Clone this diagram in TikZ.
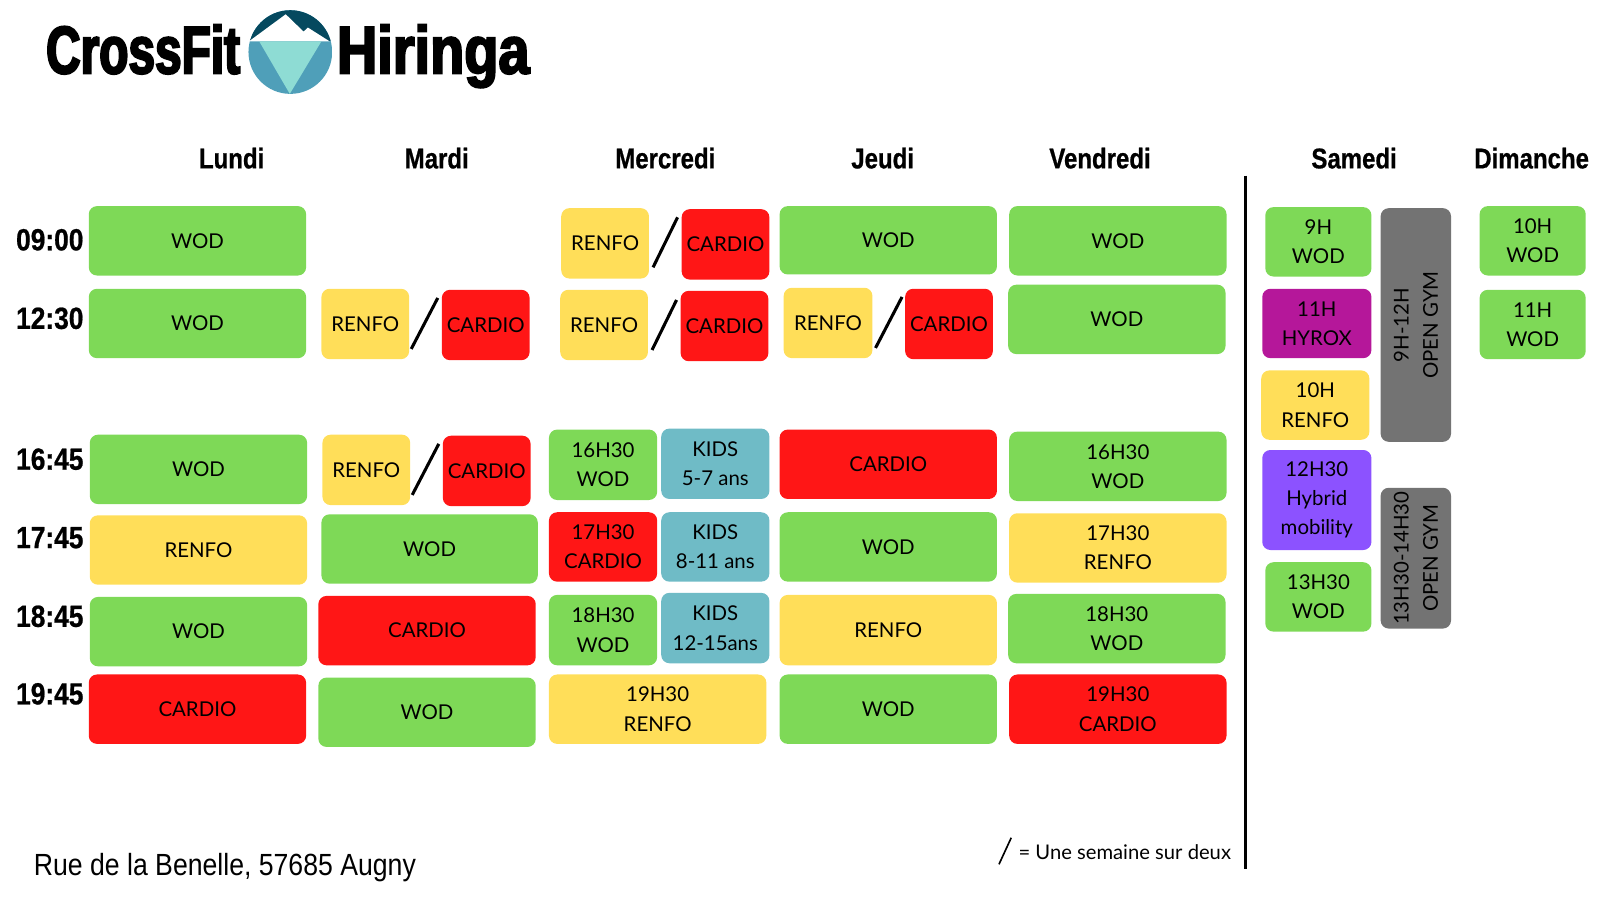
\documentclass[tikz,border=0pt]{standalone}
\usepackage{fontspec}
\setmainfont{Lato}
\newfontfamily\headfont[FakeStretch=0.84,FakeBold=0.7]{Liberation Sans Bold}
\newfontfamily\hourfont[FakeStretch=0.86,FakeBold=0.7]{Liberation Sans Bold}
\newfontfamily\logofonta[FakeStretch=0.71,FakeBold=3]{Liberation Sans Bold}
\newfontfamily\logofontb[FakeStretch=0.83,FakeBold=3]{Liberation Sans Bold}
\newfontfamily\addrfont[FakeStretch=0.87]{Liberation Sans}
\definecolor{cgreen}{HTML}{7ED957}
\definecolor{cyellow}{HTML}{FFDE59}
\definecolor{cred}{HTML}{FF1616}
\definecolor{ckids}{HTML}{6FBBC6}
\definecolor{chyrox}{HTML}{B5179A}
\definecolor{cviolet}{HTML}{8C52FF}
\definecolor{cgrey}{HTML}{737373}
\definecolor{ldark}{HTML}{05495F}
\definecolor{lblue}{HTML}{4F9FB9}
\definecolor{lteal}{HTML}{8EDCD4}
\tikzset{
  cellbox/.style={rounded corners=8pt,inner sep=0pt,align=center,font=\fontsize{20}{28.7}\selectfont,text=black},
  dayhead/.style={font=\headfont\fontsize{28}{30}\selectfont,inner sep=0pt},
  hourlab/.style={font=\hourfont\fontsize{30}{32}\selectfont,anchor=east,inner sep=0pt},
  slashline/.style={line width=3pt,black},
}
% name x0 y0 x1 y1 colour text
\newcommand{\cell}[7]{%
  \node[cellbox,fill=#6,minimum width={(#4)-(#2)},minimum height={(#5)-(#3)}] (#1) at ({((#2)+(#4))/2},{((#3)+(#5))/2}) {#7};}
\newcommand{\vcell}[7]{%
  \node[cellbox,fill=#6,minimum width={(#5)-(#3)},minimum height={(#4)-(#2)},rotate=90] (#1) at ({((#2)+(#4))/2},{((#3)+(#5))/2}) {#7};}
\newcommand{\slashbar}[5]{%
  \coordinate (#1a) at (#2,#3); \coordinate (#1b) at (#4,#5);
  \draw[slashline] (#1a) -- (#1b);}
\begin{document}
\begin{tikzpicture}[x=1pt,y=-1pt]
\useasboundingbox (0,0) rectangle (1568,882);
% logo
\begin{scope}
\clip (284.5,51) circle (41);
\fill[lblue] (243,10) rectangle (326,92);
\fill[ldark] (243,10) rectangle (326,40);
\fill[white] (244,40.5) -- (280,14) -- (297.5,31) -- (301.7,27) -- (323,40.5) -- cycle;
\fill[lteal] (254,40.5) -- (315,40.5) -- (284,92) -- cycle;
\end{scope}
\node[font=\logofonta\fontsize{66}{68}\selectfont,inner sep=0pt,anchor=base west] (logoa) at (45,72) {CrossFit};
\node[font=\logofontb\fontsize{66}{68}\selectfont,inner sep=0pt,anchor=base west] (logob) at (330,72) {Hiringa};
% days
\node[dayhead] (dlun) at (227,155) {Lundi};
\node[dayhead] (dmar) at (428,155) {Mardi};
\node[dayhead] (dmer) at (652,155) {Mercredi};
\node[dayhead] (djeu) at (865,155) {Jeudi};
\node[dayhead] (dven) at (1078,155) {Vendredi};
\node[dayhead] (dsam) at (1327,155) {Samedi};
\node[dayhead] (ddim) at (1501,155) {Dimanche};
% hours
\node[hourlab] (h1) at (82,235) {09:00};
\node[hourlab] (h2) at (82,312) {12:30};
\node[hourlab] (h3) at (82,450) {16:45};
\node[hourlab] (h4) at (82,527) {17:45};
\node[hourlab] (h5) at (82,604) {18:45};
\node[hourlab] (h6) at (82,680) {19:45};
% Lundi
\cell{l1}{87}{202}{300}{270}{cgreen}{WOD}
\cell{l2}{87}{283}{300}{351}{cgreen}{WOD}
\cell{l3}{88}{426}{301}{494}{cgreen}{WOD}
\cell{l4}{88}{505}{301}{573}{cyellow}{RENFO}
\cell{l5}{88}{585}{301}{653}{cgreen}{WOD}
\cell{l6}{87}{661}{300}{729}{cred}{CARDIO}
% Mardi
\cell{ma}{315}{283}{401}{352}{cyellow}{RENFO}
\cell{mb}{433}{284}{519}{353}{cred}{CARDIO}
\slashbar{sa}{403}{342}{429}{292}
\cell{mc}{316}{426}{402}{495}{cyellow}{RENFO}
\cell{md}{434}{427}{520}{496}{cred}{CARDIO}
\slashbar{sb}{404}{485}{430}{435}
\cell{me}{315}{504}{527}{572}{cgreen}{WOD}
\cell{mf}{312}{584}{525}{652}{cred}{CARDIO}
\cell{mg}{312}{664}{525}{732}{cgreen}{WOD}
% Mercredi
\cell{wa}{550}{204}{636}{273}{cyellow}{RENFO}
\cell{wb}{668}{205}{754}{274}{cred}{CARDIO}
\slashbar{sc}{640}{262}{664}{213}
\cell{wc}{549}{284}{635}{353}{cyellow}{RENFO}
\cell{wd}{667}{285}{753}{354}{cred}{CARDIO}
\slashbar{sd}{639}{343}{663}{294}
\cell{we}{538}{421}{644}{490}{cgreen}{16H30\\WOD}
\cell{wf}{648}{420}{754}{489}{ckids}{KIDS\\5-7 ans}
\cell{wg}{538}{502}{644}{570}{cred}{17H30\\CARDIO}
\cell{wh}{648}{502}{754}{570}{ckids}{KIDS\\8-11 ans}
\cell{wi}{538}{583}{644}{652}{cgreen}{18H30\\WOD}
\cell{wj}{648}{581}{754}{650}{ckids}{KIDS\\12-15ans}
\cell{wk}{538}{661}{751}{729}{cyellow}{19H30\\RENFO}
% Jeudi
\cell{ja}{764}{202}{977}{269}{cgreen}{WOD}
\cell{jb}{768}{282}{855}{351}{cyellow}{RENFO}
\cell{jc}{887}{283}{973}{352}{cred}{CARDIO}
\slashbar{se}{858}{341}{884}{291}
\cell{jd}{764}{421}{977}{489}{cred}{CARDIO}
\cell{je}{764}{502}{977}{570}{cgreen}{WOD}
\cell{jf}{764}{583}{977}{652}{cyellow}{RENFO}
\cell{jg}{764}{661}{977}{729}{cgreen}{WOD}
% Vendredi
\cell{va}{989}{202}{1202}{270}{cgreen}{WOD}
\cell{vb}{988}{279}{1201}{347}{cgreen}{WOD}
\cell{vc}{989}{423}{1202}{491}{cgreen}{16H30\\WOD}
\cell{vd}{989}{503}{1202}{571}{cyellow}{17H30\\RENFO}
\cell{ve}{988}{582}{1201}{650}{cgreen}{18H30\\WOD}
\cell{vf}{989}{661}{1202}{729}{cred}{19H30\\CARDIO}
% separator
\coordinate (septop) at (1221,172);
\coordinate (sepbot) at (1221,852);
\draw[line width=3pt,black] (septop) -- (sepbot);
% Samedi
\cell{sa1}{1240}{203}{1344}{271}{cgreen}{9H\\WOD}
\cell{sa2}{1237}{283}{1344}{351}{chyrox}{11H\\HYROX}
\cell{sa3}{1236}{363}{1342}{431}{cyellow}{10H\\RENFO}
\cell{sa4}{1237}{441}{1344}{539}{cviolet}{12H30\\Hybrid\\mobility}
\cell{sa5}{1240}{551}{1344}{619}{cgreen}{13H30\\WOD}
\vcell{og1}{1353}{204}{1422}{433}{cgrey}{9H-12H\\OPEN GYM}
\vcell{og2}{1353}{478}{1422}{616}{cgrey}{13H30-14H30\\OPEN GYM}
% Dimanche
\cell{di1}{1450}{202}{1554}{270}{cgreen}{10H\\WOD}
\cell{di2}{1450}{284}{1554}{352}{cgreen}{11H\\WOD}
% footer
\node[font=\addrfont\fontsize{30}{32}\selectfont,anchor=west,inner sep=0pt] (addr) at (33,850) {Rue de la Benelle, 57685 Augny};
\node[font=\fontsize{19.8}{24}\selectfont,anchor=west,inner sep=0pt] (legend) at (998,835) {= Une semaine sur deux};
\coordinate (lsa) at (979,847);
\coordinate (lsb) at (991,821);
\draw[line width=1.6pt,black] (lsa) -- (lsb);
\end{tikzpicture}
\end{document}
